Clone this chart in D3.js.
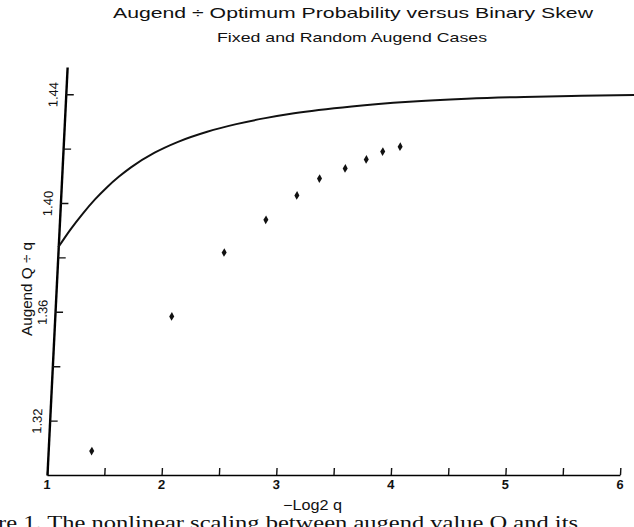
<!DOCTYPE html>
<html>
<head>
<meta charset="utf-8">
<script src="https://cdn.jsdelivr.net/npm/d3@7"></script>
<style>
  body { margin: 0; background: #fff; }
  svg { display: block; }
  text { fill: #111; }
</style>
</head>
<body>
<svg id="chart"></svg>
<script>
// smooth curve (fixed augend case)
const curveX = [1.0, 1.1, 1.2, 1.3, 1.4, 1.5, 1.6, 1.8, 2.0, 2.25, 2.5, 2.75, 3.0, 3.5, 4.0, 4.5, 5.0, 5.5, 6.0]
const curveY = [1.3837, 1.3903, 1.3961, 1.4013, 1.4058, 1.4097, 1.4131, 1.4185, 1.4225, 1.4262, 1.4290, 1.4312, 1.4330, 1.4355, 1.4372, 1.4383, 1.4390, 1.4394, 1.4397]

// dots (random augend case)
const dotX = [1.38, 2.02, 2.45, 2.80, 3.06, 3.25, 3.47, 3.65, 3.79, 3.94]
const dotY = [1.3088, 1.3583, 1.3818, 1.3938, 1.4028, 1.409, 1.4127, 1.416, 1.4189, 1.4207]

const xMajor = [1, 2, 3, 4, 5, 6]
const xMinor = [1.5, 2.5, 3.5, 4.5, 5.5]
const yMajor = [1.32, 1.36, 1.40, 1.44]
const yMinor = [1.34, 1.38, 1.42]

const W = 634, H = 527
const plotLeft = 47, plotRight = 620, plotBottom = 475, plotTop = 67
const lean = 20 / 405   // the scanned y axis leans to the right

const svg = d3.select('#chart').attr('width', W).attr('height', H)
const font = 'Liberation Sans, Arial, sans-serif'

const x = d3.scaleLinear().domain([1, 6]).range([plotLeft, plotRight])
const y = d3.scaleLinear().domain([1.30, 1.45]).range([plotBottom, plotTop])

svg.append('text')
  .attr('x', 113).attr('y', 18)
  .attr('textLength', 480).attr('lengthAdjust', 'spacingAndGlyphs')
  .style('font-family', font).style('font-size', '15px')
  .text('Augend ÷ Optimum Probability versus Binary Skew')

svg.append('text')
  .attr('x', 217).attr('y', 42)
  .attr('textLength', 270).attr('lengthAdjust', 'spacingAndGlyphs')
  .style('font-family', font).style('font-size', '13px')
  .text('Fixed and Random Augend Cases')

const g = svg.append('g')
  .attr('transform', `matrix(1,0,${-lean},1,${lean * plotBottom},0)`)

// x axis
const xAxis = g.append('g').attr('transform', `translate(0,${plotBottom})`)
  .call(d3.axisBottom(x).tickValues(xMajor).tickSize(-7).tickSizeOuter(0).tickPadding(5).tickFormat(d3.format('d')))
xAxis.select('.domain').attr('stroke-width', 1.6)
g.append('g').attr('transform', `translate(0,${plotBottom})`)
  .call(d3.axisBottom(x).tickValues(xMinor).tickSize(-7).tickSizeOuter(0).tickFormat(''))
  .select('.domain').remove()
xAxis.selectAll('text').style('font-family', font).style('font-size', '13px').style('font-weight', 'bold').attr('fill', '#111')

// y axis
const yAxis = g.append('g').attr('transform', `translate(${plotLeft},0)`)
  .call(d3.axisLeft(y).tickValues(yMajor).tickSize(-8).tickSizeOuter(0).tickFormat(d3.format('.2f')))
yAxis.select('.domain').attr('stroke-width', 2.4)
yAxis.selectAll('text')
  .attr('x', 0).attr('y', -8).attr('dy', null)
  .attr('transform', 'rotate(-90)')
  .style('text-anchor', 'middle')
  .style('font-family', font).style('font-size', '13px').attr('fill', '#111')
g.append('g').attr('transform', `translate(${plotLeft},0)`)
  .call(d3.axisLeft(y).tickValues(yMinor).tickSize(-8).tickSizeOuter(0).tickFormat(''))
  .select('.domain').remove()
g.selectAll('.tick line').attr('stroke', '#111').attr('stroke-width', 1.4)

// curve
const line = d3.line().x(d => x(d[0])).y(d => y(d[1])).curve(d3.curveMonotoneX)
g.append('path')
  .datum(curveX.map((v, i) => [v, curveY[i]]))
  .attr('d', line)
  .attr('fill', 'none').attr('stroke', '#111').attr('stroke-width', 2)

// dots
g.append('g').selectAll('path')
  .data(dotX.map((v, i) => [v, dotY[i]]))
  .join('path')
    .attr('transform', d => `translate(${x(d[0])},${y(d[1])})`)
    .attr('d', d3.symbol(d3.symbolDiamond).size(22))
    .attr('fill', '#111')

// y label
svg.append('text')
  .attr('transform', 'translate(32,289) rotate(-90)')
  .attr('x', -47).attr('textLength', 94).attr('lengthAdjust', 'spacingAndGlyphs')
  .style('font-family', font).style('font-size', '14px')
  .text('Augend Q ÷ q')

// x label
svg.append('text')
  .attr('x', 283).attr('y', 510)
  .attr('textLength', 59).attr('lengthAdjust', 'spacingAndGlyphs')
  .style('font-family', font).style('font-size', '14px')
  .text('−Log2 q')

// caption cut off at the bottom of the scan
svg.append('text')
  .attr('x', -2).attr('y', 529)
  .attr('textLength', 580).attr('lengthAdjust', 'spacingAndGlyphs')
  .style('font-family', 'Liberation Serif, Times New Roman, serif').style('font-size', '19px')
  .text('re 1.  The nonlinear scaling between augend value Q and its')
</script>
</body>
</html>
